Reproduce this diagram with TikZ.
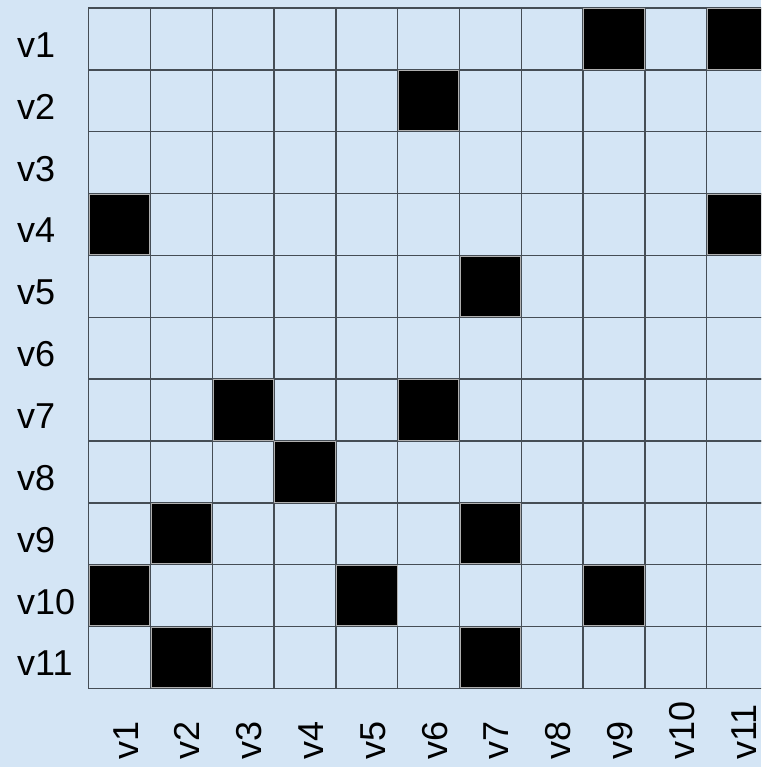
\documentclass[tikz,border=0pt]{standalone}
\usepackage{fontspec}
\setmainfont{Liberation Sans}
\definecolor{bg}{HTML}{D4E5F5}
\definecolor{gridc}{HTML}{454D55}
\definecolor{cellb}{HTML}{B0B0B0}
\tikzset{
  gridcell/.style={draw=gridc, line width=1.4pt, fill=bg},
  blackcell/.style={draw=cellb, line width=1pt, fill=black},
  rowlab/.style={anchor=base west, inner sep=0pt, font=\fontsize{36}{40}\selectfont},
  collab/.style={rotate=90, anchor=base west, inner sep=0pt, font=\fontsize{36}{40}\selectfont}
}
\begin{document}
\begin{tikzpicture}[x=1pt,y=1pt]
\useasboundingbox (0,0) rectangle (761,-767);
\fill[bg] (0,0) rectangle (761,-767);
\clip (0,0) rectangle (761,-767);
\foreach \r in {1,...,11}{
  \foreach \c in {1,...,11}{
    \draw[gridcell] ({88.7+(\c-1)*61.8},{-8-(\r-1)*61.85}) rectangle ++(61.8,-61.85);
  }
}
\foreach \r/\c in {1/9,1/11,2/6,4/1,4/11,5/7,7/3,7/6,8/4,9/2,9/7,10/1,10/5,10/9,11/2,11/7}{
  \draw[blackcell] ({88.7+(\c-1)*61.8+0.7},{-8-(\r-1)*61.85-0.7}) rectangle ++(60.4,-60.45);
}
\foreach \r in {1,...,11}{
  \node[rowlab] (r\r) at (17,{-8-(\r-0.5)*61.85-18.5}) {v\r};
}
\foreach \c in {1,...,11}{
  \node[collab] (c\c) at ({88.7+(\c-0.5)*61.8+18.4},-760) {v\c};
}
\end{tikzpicture}
\end{document}
